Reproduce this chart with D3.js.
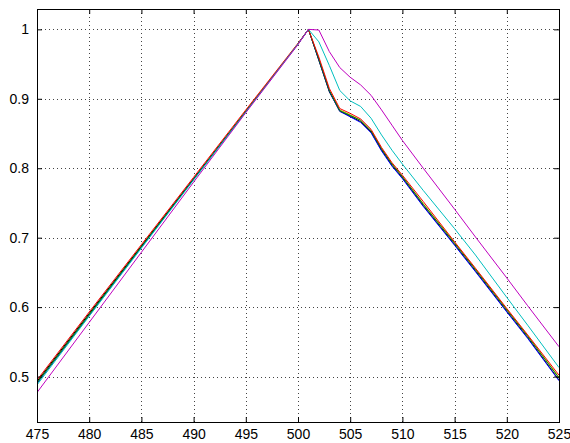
<!DOCTYPE html>
<html>
<head>
<meta charset="utf-8">
<script src="https://d3js.org/d3.v7.min.js"></script>
<style>
  body { margin: 0; background: #fff; }
  svg { display: block; }
  .tick text { font-family: "Liberation Sans", Arial, Helvetica, sans-serif; }
</style>
</head>
<body>
<svg id="chart" width="570" height="443"></svg>
<script>
// x positions shared by all the curves
var xVals = [475, 480, 485, 490, 495, 500, 501, 502, 503, 504, 505, 506, 507, 508, 509, 510, 512, 515, 517, 520, 522, 525];

var yellowVals  = [0.492, 0.590, 0.688, 0.785, 0.882, 0.979, 1.0, 0.957, 0.912, 0.884, 0.877, 0.869, 0.854, 0.828, 0.806, 0.788, 0.749, 0.693, 0.655, 0.597, 0.559, 0.499];
var blackVals   = [0.493, 0.591, 0.688, 0.785, 0.882, 0.979, 1.0, 0.955, 0.910, 0.882, 0.875, 0.867, 0.852, 0.826, 0.804, 0.786, 0.746, 0.690, 0.652, 0.594, 0.556, 0.495];
var blueVals    = [0.490, 0.588, 0.686, 0.784, 0.881, 0.979, 1.0, 0.956, 0.911, 0.882, 0.874, 0.866, 0.851, 0.825, 0.803, 0.785, 0.745, 0.689, 0.651, 0.593, 0.555, 0.494];
var greenVals   = [0.491, 0.589, 0.687, 0.784, 0.882, 0.979, 1.0, 0.957, 0.912, 0.883, 0.876, 0.869, 0.854, 0.828, 0.806, 0.788, 0.748, 0.692, 0.654, 0.596, 0.558, 0.498];
var redVals     = [0.495, 0.593, 0.690, 0.787, 0.884, 0.980, 1.0, 0.960, 0.915, 0.886, 0.879, 0.871, 0.856, 0.830, 0.808, 0.790, 0.752, 0.694, 0.656, 0.598, 0.560, 0.502];
var cyanVals    = [0.488, 0.587, 0.685, 0.783, 0.881, 0.979, 1.0, 0.982, 0.948, 0.912, 0.897, 0.889, 0.872, 0.848, 0.826, 0.806, 0.768, 0.713, 0.675, 0.614, 0.574, 0.513];
var magentaVals = [0.477, 0.578, 0.679, 0.780, 0.880, 0.978, 1.0, 0.999, 0.968, 0.945, 0.931, 0.920, 0.905, 0.884, 0.862, 0.840, 0.800, 0.741, 0.701, 0.642, 0.602, 0.543];

var seriesNames  = ['yellow', 'black', 'blue', 'green', 'red', 'cyan', 'magenta'];
var seriesColors = ['#bfbf00', '#000000', '#0000ff', '#008000', '#ff0000', '#00bfbf', '#bf00bf'];
var seriesData   = [yellowVals, blackVals, blueVals, greenVals, redVals, cyanVals, magentaVals];

var xTicks = [475, 480, 485, 490, 495, 500, 505, 510, 515, 520, 525];
var yTicks = [0.5, 0.6, 0.7, 0.8, 0.9, 1];
var xLimits = [475, 525];
var yLimits = [0.4346, 1.0293];

var box = {left: 37, right: 559, top: 9, bottom: 422};

var svg = d3.select('#chart');

var x = d3.scaleLinear().domain(xLimits).range([box.left, box.right]);
var y = d3.scaleLinear().domain(yLimits).range([box.bottom, box.top]);

// dotted grid, matlab style
var grid = svg.append('g').attr('class', 'grid');
grid.selectAll('line.gx').data(xTicks.filter(function (d) { return d > xLimits[0] && d < xLimits[1]; }))
    .enter().append('line').attr('class', 'gx')
    .attr('x1', function (d) { return Math.round(x(d)) + 0.5; })
    .attr('x2', function (d) { return Math.round(x(d)) + 0.5; })
    .attr('y1', box.top).attr('y2', box.bottom)
    .attr('stroke', '#444').attr('stroke-width', 1).attr('stroke-dasharray', '1,3');
grid.selectAll('line.gy').data(yTicks)
    .enter().append('line').attr('class', 'gy')
    .attr('y1', function (d) { return Math.round(y(d)) + 0.5; })
    .attr('y2', function (d) { return Math.round(y(d)) + 0.5; })
    .attr('x1', box.left).attr('x2', box.right)
    .attr('stroke', '#444').attr('stroke-width', 1).attr('stroke-dasharray', '1,3');

svg.append('clipPath').attr('id', 'plotclip').append('rect')
    .attr('x', box.left).attr('y', box.top)
    .attr('width', box.right - box.left).attr('height', box.bottom - box.top);

var line = d3.line()
    .x(function (d) { return x(d[0]); })
    .y(function (d) { return y(d[1]); });

var curves = svg.append('g').attr('clip-path', 'url(#plotclip)');
for (var i = 0; i < seriesData.length; i++) {
    var pts = xVals.map(function (xv, k) { return [xv, seriesData[i][k]]; });
    curves.append('path')
        .datum(pts)
        .attr('class', 'series ' + seriesNames[i])
        .attr('d', line)
        .attr('fill', 'none')
        .attr('stroke', seriesColors[i])
        .attr('stroke-width', 1);
}

// axes, ticks pointing inward on all four sides
var fontSize = 14;
var bottomAxis = d3.axisBottom(x).tickValues(xTicks).tickSizeInner(-5).tickSizeOuter(0).tickPadding(7).tickFormat(d3.format('d'));
var topAxis = d3.axisTop(x).tickValues(xTicks).tickSizeInner(-5).tickSizeOuter(0).tickFormat('');
var leftAxis = d3.axisLeft(y).tickValues(yTicks).tickSizeInner(-5).tickSizeOuter(0).tickPadding(8).tickFormat(d3.format('~g'));
var rightAxis = d3.axisRight(y).tickValues(yTicks).tickSizeInner(-5).tickSizeOuter(0).tickFormat('');

function styleAxis(g) {
    g.select('.domain').remove();
    g.selectAll('.tick line').attr('stroke', '#000');
    g.selectAll('.tick text').attr('fill', '#000').style('font-size', fontSize + 'px');
}

svg.append('g').attr('transform', 'translate(0,' + box.bottom + ')').call(bottomAxis).call(styleAxis);
svg.append('g').attr('transform', 'translate(0,' + box.top + ')').call(topAxis).call(styleAxis);
svg.append('g').attr('transform', 'translate(' + box.left + ',0)').call(leftAxis).call(styleAxis);
svg.append('g').attr('transform', 'translate(' + box.right + ',0)').call(rightAxis).call(styleAxis);

svg.append('rect')
    .attr('x', box.left + 0.5).attr('y', box.top + 0.5)
    .attr('width', box.right - box.left).attr('height', box.bottom - box.top)
    .attr('fill', 'none').attr('stroke', '#000').attr('stroke-width', 1);
</script>
</body>
</html>
